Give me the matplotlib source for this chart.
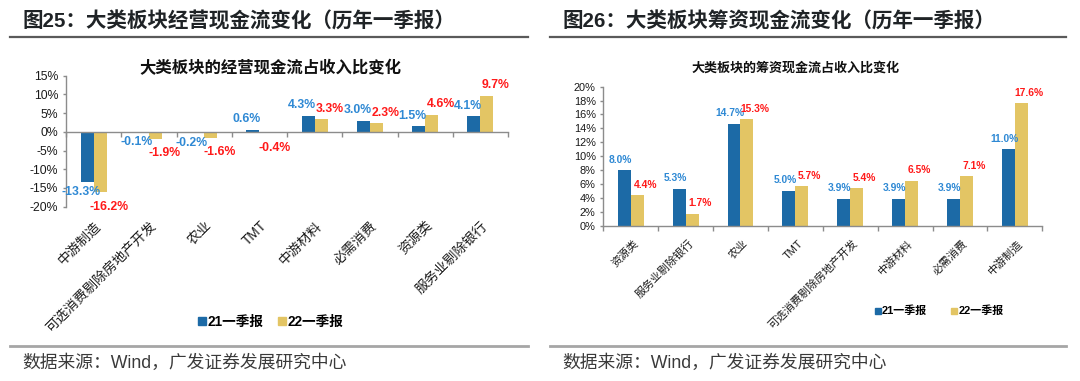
import matplotlib
matplotlib.use("Agg")
import matplotlib.pyplot as plt
from matplotlib.lines import Line2D
import numpy as np

# ---------------- data ----------------
left_title = "图25：大类板块经营现金流变化（历年一季报）"
right_title = "图26：大类板块筹资现金流变化（历年一季报）"
left_chart_title = "大类板块的经营现金流占收入比变化"
right_chart_title = "大类板块的筹资现金流占收入比变化"
source_text = "数据来源：Wind，广发证券发展研究中心"
series_names = ["21一季报", "22一季报"]

left_categories = ["中游制造", "可选消费剔除房地产开发", "农业", "TMT",
                   "中游材料", "必需消费", "资源类", "服务业剔除银行"]
left_q21 = [-13.3, -0.1, -0.2, 0.6, 4.3, 3.0, 1.5, 4.1]
left_q22 = [-16.2, -1.9, -1.6, -0.4, 3.3, 2.3, 4.6, 9.7]
left_yticks = [15, 10, 5, 0, -5, -10, -15, -20]

right_categories = ["资源类", "服务业剔除银行", "农业", "TMT",
                    "可选消费剔除房地产开发", "中游材料", "必需消费", "中游制造"]
right_q21 = [8.0, 5.3, 14.7, 5.0, 3.9, 3.9, 3.9, 11.0]
right_q22 = [4.4, 1.7, 15.3, 5.7, 5.4, 6.5, 7.1, 17.6]
right_yticks = [0, 2, 4, 6, 8, 10, 12, 14, 16, 18, 20]

# ---------------- style ----------------
BLUE = "#1c6aa6"
GOLD = "#e3c564"
LBL_BLUE = "#2f89d4"
LBL_RED = "#ff1a1a"
AX_GRAY = "#8c8c8c"
LAT = ["Liberation Sans", "Noto Sans CJK SC", "DejaVu Sans"]
CJK = ["Noto Sans CJK SC", "DejaVu Sans"]
PX = 0.72  # points per pixel at dpi 100

fig = plt.figure(figsize=(10.8, 3.81), dpi=100)


def fx(px):
    return px / 1080.0


def fy(py):
    return 1.0 - py / 381.0


# headers and footer
for x0, x1, tx, title in [(10, 528, 22.5, left_title), (550, 1066, 562.5, right_title)]:
    fig.text(fx(tx), fy(21.5), title, family=LAT, fontsize=14.8, fontweight="bold",
             color="#1f2326", ha="left", va="center")
    fig.add_artist(Line2D([fx(x0), fx(x1)], [fy(36.7), fy(36.7)], color="#5a5a5a", lw=1.6))
    fig.add_artist(Line2D([fx(x0), fx(x1)], [fy(345.7), fy(345.7)], color="#a6a6a6", lw=2.0))
    fig.text(fx(tx), fy(363.5), source_text, family=LAT, fontsize=12.8,
             color="#3a3a3a", ha="left", va="center")


def draw_panel(rect, cats, v21, v22, yticks, ylim, tick_fs, lbl_fs, cat_fs,
               cat_off, lbl_dx, zero_spine, title, title_xy, title_fs,
               leg_xy, leg_fs, leg_ms, leg_colsp):
    ax = fig.add_axes(rect)
    n = len(cats)
    x = np.arange(n) + 0.5
    w = 0.235
    ax.bar(x - w / 2, v21, width=w, color=BLUE, zorder=2)
    ax.bar(x + w / 2, v22, width=w, color=GOLD, zorder=2)
    ax.set_xlim(0, n)
    ax.set_ylim(*ylim)
    ax.set_yticks(yticks)
    ax.set_yticklabels([f"{t}%" for t in yticks], family=LAT, fontsize=tick_fs, color="#1a1a1a")
    ax.set_xticks(np.arange(n + 1))
    ax.set_xticklabels([])
    for s in ["top", "right"]:
        ax.spines[s].set_visible(False)
    for s in ["left", "bottom"]:
        ax.spines[s].set_color(AX_GRAY)
        ax.spines[s].set_linewidth(1.0)
    if zero_spine:
        ax.spines["bottom"].set_position(("data", 0))
    ax.tick_params(axis="both", direction="out", length=3.5, width=1.0, color=AX_GRAY, pad=2)
    ax.tick_params(axis="y", length=2.5, pad=3)

    # data labels
    for xi, v in zip(x, v21):
        dy = 10.5 if v >= 0 else -10
        ax.annotate(f"{v:.1f}%", (xi - w / 2, v), xytext=(lbl_dx[0] * PX, dy * PX),
                    textcoords="offset points", ha="center", va="center",
                    family=LAT, fontsize=lbl_fs, fontweight="bold", color=LBL_BLUE, zorder=4)
    for xi, v in zip(x, v22):
        dy = 10.5 if v >= 0 else -14.5
        ax.annotate(f"{v:.1f}%", (xi + w / 2, v), xytext=(lbl_dx[1] * PX, dy * PX),
                    textcoords="offset points", ha="center", va="center",
                    family=LAT, fontsize=lbl_fs, fontweight="bold", color=LBL_RED, zorder=4)

    # category labels
    for xi, c in zip(x, cats):
        ax.annotate(c, (xi, 0), xycoords=("data", "axes fraction"),
                    xytext=(cat_off[0] * PX, -cat_off[1] * PX), textcoords="offset points",
                    rotation=45, rotation_mode="anchor", ha="right", va="center",
                    family=LAT, fontsize=cat_fs, color="#1a1a1a")

    fig.text(fx(title_xy[0]), fy(title_xy[1]), title, family=CJK, fontsize=title_fs,
             fontweight="bold", color="#111111", ha="center", va="center")

    handles = [Line2D([], [], marker="s", ls="none", color=BLUE, markersize=leg_ms),
               Line2D([], [], marker="s", ls="none", color=GOLD, markersize=leg_ms)]
    fig.legend(handles, series_names, loc="center", ncol=2,
               bbox_to_anchor=(fx(leg_xy[0]), fy(leg_xy[1])), frameon=False,
               handlelength=0.55, handletextpad=0.1, columnspacing=leg_colsp,
               prop={"family": LAT, "size": leg_fs, "weight": "bold"})
    return ax


draw_panel([fx(66), fy(206.7), fx(508 - 66), (206.7 - 75.7) / 381.0],
           left_categories, left_q21, left_q22, left_yticks, (-20, 15),
           tick_fs=8.8, lbl_fs=8.8, cat_fs=9.8, cat_off=(5, 17), lbl_dx=(-6, 9),
           zero_spine=True,
           title=left_chart_title, title_xy=(270, 68.3), title_fs=11.8,
           leg_xy=(271, 322), leg_fs=9.8, leg_ms=5.2, leg_colsp=1.1)

draw_panel([fx(603.3), fy(225.7), fx(1042.3 - 603.3), (225.7 - 86.7) / 381.0],
           right_categories, right_q21, right_q22, right_yticks, (0, 20),
           tick_fs=7.9, lbl_fs=7.4, cat_fs=7.9, cat_off=(6, 16), lbl_dx=(-4, 8),
           zero_spine=False,
           title=right_chart_title, title_xy=(795.3, 67.3), title_fs=9.4,
           leg_xy=(939, 311), leg_fs=7.9, leg_ms=4.4, leg_colsp=2.2)

fig.savefig("out.png", dpi=100)
